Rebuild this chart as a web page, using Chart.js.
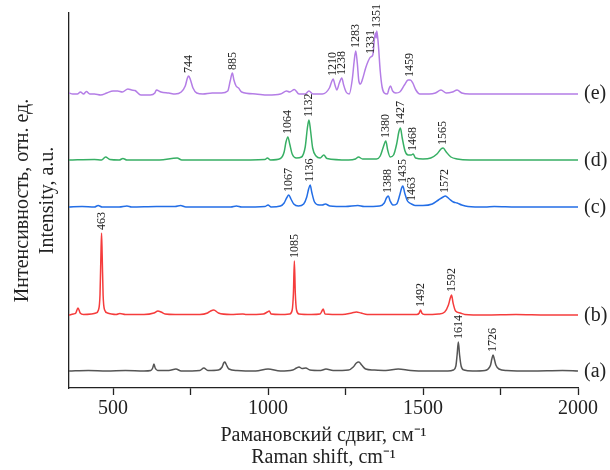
<!DOCTYPE html>
<html>
<head>
<meta charset="utf-8">
<script src="https://cdn.jsdelivr.net/npm/chart.js@4.4.0/dist/chart.umd.min.js"></script>
<style>
  body { margin: 0; background: #fff; }
  #wrap { width: 610px; height: 470px; }
</style>
</head>
<body>
<div id="wrap"><canvas id="ramanChart"></canvas></div>
<script>
    // spectra: [Raman shift, intensity above own baseline]
    var specA = [[358,0],[420,0.5],[480,0],[540,0.5],[600,0],[622,0.5],[628,3],[632,7],[636,3],[644,0.5],[680,0.5],[703,2],[720,0],[780,0.5],[793,3],[806,0.5],[840,1],[852,4],[857,8],[861,9],[866,6],[874,2],[900,0.5],[960,0],[1000,2],[1040,0],[1080,1],[1092,3],[1100,4],[1110,2.5],[1122,3],[1135,1],[1170,0.5],[1187,2],[1210,0.5],[1260,1],[1275,4],[1285,8],[1293,9],[1302,6],[1315,2],[1340,1],[1380,0.5],[1420,2],[1460,0.5],[1520,0],[1580,0],[1598,1],[1606,5],[1610,16],[1614,29],[1618,16],[1623,5],[1632,1],[1660,0],[1700,0.5],[1710,2],[1718,6],[1722,12],[1726,16],[1730,12],[1735,6],[1745,2],[1770,0.5],[1850,0],[1950,0.5],[2000,0]];
    var specB = [[358,0],[372,1],[380,2],[387,7],[394,2],[405,0.5],[430,1],[445,2],[453,5],[458,20],[461,60],[463,82],[465,60],[468,20],[473,5],[482,2],[495,1],[510,0.5],[522,1.5],[540,0.5],[600,0.5],[632,2],[645,4],[655,3],[668,1],[700,0.5],[780,0.5],[805,2],[815,4],[825,5],[840,2],[880,0.5],[919,1],[930,0.5],[985,1],[998,3],[1004,4],[1010,1],[1040,0.5],[1070,1],[1078,5],[1082,22],[1085,54],[1088,22],[1092,5],[1100,1],[1140,0.5],[1168,1],[1174,4],[1178,6],[1184,1],[1240,0.5],[1270,2],[1285,3],[1300,2],[1320,0.5],[1400,0.5],[1480,0.5],[1488,2],[1492,5],[1496,2],[1505,0.5],[1550,1],[1570,3],[1582,10],[1588,17],[1592,20],[1597,12],[1605,4],[1620,2],[1635,0.5],[1700,0],[1800,0.5],[1900,0],[2000,0]];
    var specC = [[358,0],[400,0.5],[440,0],[452,1.5],[465,0],[520,0],[545,1],[560,0],[640,0.5],[700,0.5],[718,1.5],[735,0],[880,0],[898,1],[915,0],[990,0.5],[1000,2],[1010,0],[1040,1],[1052,4],[1060,9],[1067,12],[1074,8],[1083,3],[1098,1],[1115,3],[1125,10],[1131,18],[1136,22],[1141,15],[1150,5],[1165,2],[1175,2],[1185,3],[1200,1],[1250,0.5],[1290,1.5],[1310,0.5],[1360,1],[1375,4],[1382,9],[1388,11],[1394,6],[1403,2],[1415,3],[1425,12],[1431,19],[1435,21],[1441,14],[1450,6],[1457,4],[1463,3],[1475,1.5],[1500,1.5],[1530,3],[1550,7],[1565,10],[1572,11],[1585,8],[1598,5],[1610,4],[1625,2],[1645,0.5],[1700,0],[1730,0.5],[1800,0],[2000,0]];
    var specD = [[358,0],[440,0.5],[463,0],[476,3],[490,0.5],[520,0],[532,1.5],[545,0],[650,0],[707,2],[722,0],[880,0],[990,0.5],[998,2],[1008,0],[1040,1.5],[1052,8],[1058,18],[1064,23],[1070,16],[1078,6],[1092,2],[1108,3],[1120,13],[1127,32],[1132,40],[1137,30],[1144,12],[1155,4],[1168,2],[1180,5],[1190,1.5],[1260,0],[1282,1],[1292,3],[1305,1],[1350,1],[1362,4],[1372,13],[1380,19],[1386,10],[1394,3],[1405,5],[1415,16],[1422,28],[1427,32],[1433,22],[1442,9],[1452,5],[1462,5],[1468,6],[1476,2],[1500,1],[1525,2],[1545,6],[1558,11],[1565,12],[1575,8],[1590,3],[1610,1],[1650,0],[1800,0],[2000,0]];
    var specE = [[358,0],[370,-1],[385,-1],[395,1],[405,-1],[414,1.5],[425,-1],[440,-1],[460,-2],[480,0],[500,2],[515,2],[530,1],[548,4],[560,3],[571,2.5],[590,-2],[620,-2],[635,0],[640,3],[655,1],[680,0],[700,-1],[720,1],[733,7],[740,15],[744,17],[750,13],[758,5],[770,0],[790,-1],[820,0],[850,0],[870,2],[878,12],[885,20],[890,13],[897,7],[905,5],[915,1],[960,-1],[1000,-2],[1040,-1],[1060,2],[1070,1],[1085,3.5],[1100,-1],[1120,-1],[1132,2],[1145,-1],[1175,-1],[1198,5],[1205,11],[1210,14],[1216,8],[1222,3],[1230,10],[1238,15],[1244,8],[1252,1],[1262,-1],[1272,14],[1278,32],[1283,42],[1288,30],[1293,12],[1298,9],[1305,14],[1315,25],[1322,31],[1331,36],[1338,38],[1344,56],[1347,60],[1349,55],[1351,62],[1356,48],[1362,22],[1368,6],[1375,0],[1385,-1],[1390,4],[1395,7],[1402,2],[1412,0],[1425,1],[1440,8],[1452,13],[1459,13],[1467,10],[1477,3],[1490,-1],[1520,-1],[1540,0],[1558,3],[1575,0],[1595,1],[1610,3],[1625,0],[1650,-1],[1700,-1],[1800,-1],[1900,-1],[2000,-1]];

    var peaksA = [1614, 1726];
    var peaksB = [463, 1085, 1492, 1592];
    var peaksC = [1067, 1136, 1388, 1435, 1463, 1572];
    var peaksD = [1064, 1132, 1380, 1427, 1468, 1565];
    var peaksE = [744, 885, 1210, 1238, 1283, 1331, 1351, 1459];

    var tags = ['(a)', '(b)', '(c)', '(d)', '(e)'];
    var offsets = [17, 73, 181, 228, 295];
    var xTicks = [500, 750, 1000, 1250, 1500, 1750, 2000];

    var spectra = [specA, specB, specC, specD, specE];
    var peaks = [peaksA, peaksB, peaksC, peaksD, peaksE];
    var colors = ['rgb(85,85,85)', 'rgb(245,60,60)', 'rgb(35,110,230)', 'rgb(55,175,100)', 'rgb(180,125,230)'];

    function valueAt(spec, x) {
        var best = spec[0];
        spec.forEach(function (p) {
            if (Math.abs(p[0] - x) < Math.abs(best[0] - x)) best = p;
        });
        return best[1];
    }

    var serif = '"Liberation Serif", "Times New Roman", serif';
    Chart.defaults.font.family = serif;
    Chart.defaults.color = '#222';

    var labelPlugin = {
        id: 'labelPlugin',
        afterDatasetsDraw: function (chart) {
            var ctx = chart.ctx, xs = chart.scales.x, ys = chart.scales.y;
            ctx.save();
            ctx.fillStyle = '#222';
            ctx.textBaseline = 'middle';
            ctx.textAlign = 'left';
            for (var i = 0; i < spectra.length; i++) {
                ctx.font = '12px ' + serif;
                peaks[i].forEach(function (p) {
                    var px = xs.getPixelForValue(p);
                    var py = ys.getPixelForValue(valueAt(spectra[i], p) + offsets[i]) - 3;
                    ctx.save();
                    ctx.translate(px, py);
                    ctx.rotate(-Math.PI / 2);
                    ctx.fillText(String(p), 0, 0);
                    ctx.restore();
                });
                ctx.font = '20px ' + serif;
                ctx.fillText(tags[i], chart.chartArea.right + 6, ys.getPixelForValue(offsets[i]) + 1);
            }
            ctx.restore();
        }
    };

    var datasets = spectra.map(function (spec, i) {
        return {
            label: tags[i],
            data: spec.map(function (p) { return {x: p[0], y: p[1] + offsets[i]}; }),
            borderColor: colors[i],
            borderWidth: 1.5,
            pointRadius: 0,
            cubicInterpolationMode: 'monotone',
            fill: false
        };
    });

    new Chart(document.getElementById('ramanChart'), {
        type: 'line',
        data: {datasets: datasets},
        options: {
            animation: false,
            responsive: true,
            maintainAspectRatio: false,
            devicePixelRatio: 1,
            layout: {padding: {left: 0, right: 32, top: 13, bottom: 0}},
            plugins: {legend: {display: false}, tooltip: {enabled: false}},
            scales: {
                x: {
                    type: 'linear',
                    min: 358,
                    max: 2000,
                    afterBuildTicks: function (scale) {
                        scale.ticks = xTicks.map(function (v) { return {value: v}; });
                    },
                    afterFit: function (scale) { scale.height = 82; },
                    ticks: {
                        autoSkip: false,
                        maxRotation: 0,
                        padding: 2,
                        color: '#222',
                        font: {size: 20},
                        callback: function (v) { return v % 500 === 0 ? String(v) : ''; }
                    },
                    grid: {display: true, drawOnChartArea: false, drawTicks: true, tickLength: 7, tickColor: '#222', tickWidth: 1.3},
                    border: {display: true, color: '#222', width: 1.3},
                    title: {
                        display: true,
                        text: ['Рамановский сдвиг, см⁻¹', 'Raman shift, cm⁻¹'],
                        color: '#222',
                        font: {size: 20, lineHeight: 1.1},
                        padding: {top: 0, bottom: 1}
                    }
                },
                y: {
                    min: 0,
                    max: 375,
                    afterFit: function (scale) { scale.width = 69; },
                    ticks: {display: false},
                    grid: {display: false},
                    border: {display: true, color: '#222', width: 1.3},
                    title: {
                        display: true,
                        text: ['Интенсивность, отн. ед.', 'Intensity, a.u.'],
                        color: '#222',
                        font: {size: 20, lineHeight: 1.25},
                        padding: {top: 10, bottom: 0}
                    }
                }
            }
        },
        plugins: [labelPlugin]
    });
</script>
</body>
</html>
